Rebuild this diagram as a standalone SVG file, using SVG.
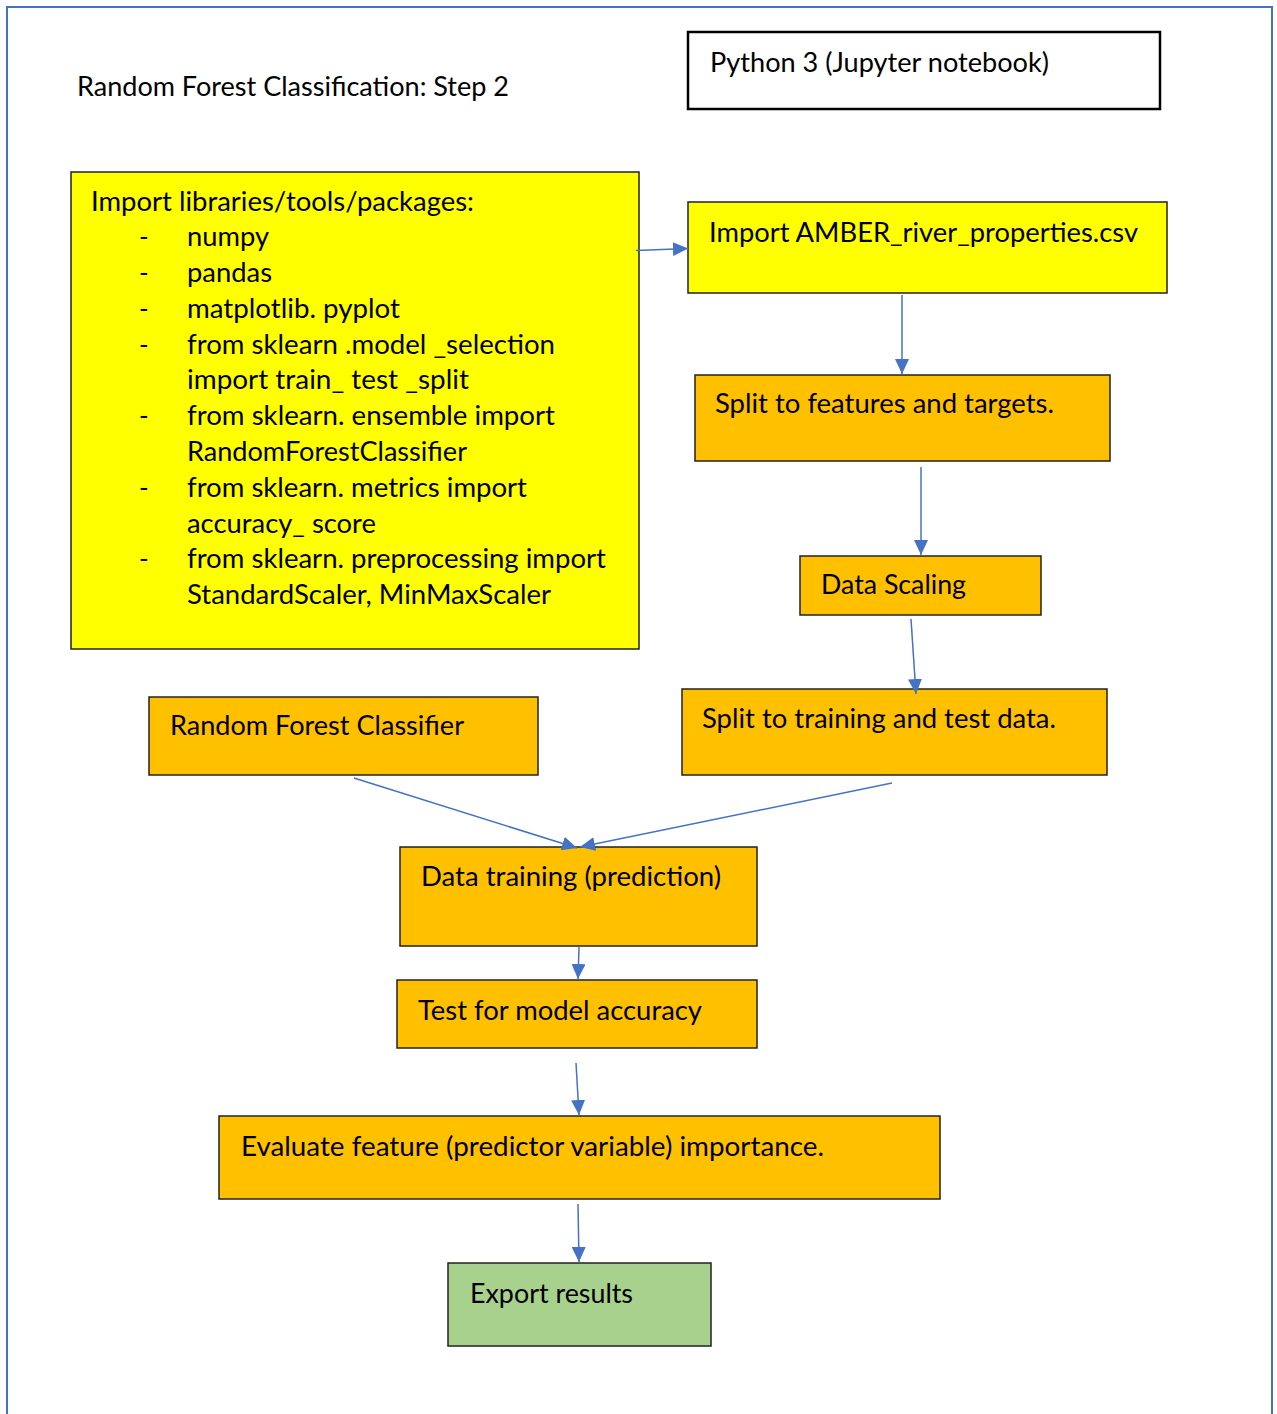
<svg xmlns="http://www.w3.org/2000/svg" width="1277" height="1414" viewBox="0 0 1277 1414">
<style>
  text { font-family: Lato, "Open Sans", "Liberation Sans", sans-serif; font-size: 26px; fill: #000; }
  .title { font-size: 26px; }
  .box { stroke: #222; stroke-width: 1.5; }
  .yellow { fill: #FFFF00; }
  .orange { fill: #FFC000; }
  .green { fill: #A9D18E; }
  .conn line { stroke: #4472C4; stroke-width: 1.5; fill: none; marker-end: url(#arr); }
</style>
<defs>
  <marker id="arr" markerUnits="userSpaceOnUse" markerWidth="16" markerHeight="14" refX="15" refY="7" orient="auto">
    <path d="M0,0 L15,7 L0,14 Z" fill="#4472C4"/>
  </marker>
</defs>
<rect x="0" y="0" width="1277" height="1414" fill="#fff"/>
<rect id="frame" x="7" y="7" width="1265" height="1440" fill="none" stroke="#4472C4" stroke-width="2"/>

<g id="title">
  <text class="title" x="77" y="96" textLength="432" lengthAdjust="spacingAndGlyphs">Random Forest Classification: Step 2</text>
</g>

<g id="python">
  <rect x="688" y="32" width="472" height="77" fill="#fff" stroke="#000" stroke-width="2.5"/>
  <text x="710" y="72" textLength="339" lengthAdjust="spacingAndGlyphs">Python 3 (Jupyter notebook)</text>
</g>

<g id="import-libs">
  <rect class="box yellow" x="71" y="172" width="568" height="477"/>
  <text x="91" y="211" textLength="383" lengthAdjust="spacingAndGlyphs">Import libraries/tools/packages:</text>
  <text x="139" y="246">-</text><text x="187" y="246" textLength="82" lengthAdjust="spacingAndGlyphs">numpy</text>
  <text x="139" y="282">-</text><text x="187" y="282" textLength="85" lengthAdjust="spacingAndGlyphs">pandas</text>
  <text x="139" y="318">-</text><text x="187" y="318" textLength="213" lengthAdjust="spacingAndGlyphs">matplotlib. pyplot</text>
  <text x="139" y="354">-</text><text x="187" y="354" textLength="368" lengthAdjust="spacingAndGlyphs">from sklearn .model _selection</text>
  <text x="187" y="389" textLength="282" lengthAdjust="spacingAndGlyphs">import train_ test _split</text>
  <text x="139" y="425">-</text><text x="187" y="425" textLength="368" lengthAdjust="spacingAndGlyphs">from sklearn. ensemble import</text>
  <text x="187" y="461" textLength="280" lengthAdjust="spacingAndGlyphs">RandomForestClassifier</text>
  <text x="139" y="497">-</text><text x="187" y="497" textLength="340" lengthAdjust="spacingAndGlyphs">from sklearn. metrics import</text>
  <text x="187" y="533" textLength="189" lengthAdjust="spacingAndGlyphs">accuracy_ score</text>
  <text x="139" y="568">-</text><text x="187" y="568" textLength="419" lengthAdjust="spacingAndGlyphs">from sklearn. preprocessing import</text>
  <text x="187" y="604" textLength="364" lengthAdjust="spacingAndGlyphs">StandardScaler, MinMaxScaler</text>
</g>

<g id="import-amber">
  <rect class="box yellow" x="688" y="202" width="479" height="91"/>
  <text x="709" y="242" textLength="429" lengthAdjust="spacingAndGlyphs">Import AMBER_river_properties.csv</text>
</g>

<g id="split-features">
  <rect class="box orange" x="695" y="375" width="415" height="86"/>
  <text x="715" y="413" textLength="339" lengthAdjust="spacingAndGlyphs">Split to features and targets.</text>
</g>

<g id="data-scaling">
  <rect class="box orange" x="800" y="556" width="241" height="59"/>
  <text x="821" y="594" textLength="145" lengthAdjust="spacingAndGlyphs">Data Scaling</text>
</g>

<g id="split-training">
  <rect class="box orange" x="682" y="689" width="425" height="86"/>
  <text x="702" y="728" textLength="354" lengthAdjust="spacingAndGlyphs">Split to training and test data.</text>
</g>

<g id="rf-classifier">
  <rect class="box orange" x="149" y="697" width="389" height="78"/>
  <text x="170" y="735" textLength="294" lengthAdjust="spacingAndGlyphs">Random Forest Classifier</text>
</g>

<g id="data-training">
  <rect class="box orange" x="400" y="847" width="357" height="99"/>
  <text x="421" y="886" textLength="300" lengthAdjust="spacingAndGlyphs">Data training (prediction)</text>
</g>

<g id="test-accuracy">
  <rect class="box orange" x="397" y="980" width="360" height="68"/>
  <text x="418" y="1020" textLength="284" lengthAdjust="spacingAndGlyphs">Test for model accuracy</text>
</g>

<g id="evaluate">
  <rect class="box orange" x="219" y="1116" width="721" height="83"/>
  <text x="241" y="1156" textLength="583" lengthAdjust="spacingAndGlyphs">Evaluate feature (predictor variable) importance.</text>
</g>

<g id="export">
  <rect class="box green" x="448" y="1263" width="263" height="83"/>
  <text x="470" y="1303" textLength="163" lengthAdjust="spacingAndGlyphs">Export results</text>
</g>

<g id="connectors" class="conn">
  <line x1="636" y1="250.5" x2="688" y2="248.5"/>
  <line x1="902" y1="295" x2="902" y2="374"/>
  <line x1="921" y1="467" x2="921" y2="555"/>
  <line x1="911" y1="619" x2="916" y2="694"/>
  <line x1="354" y1="778" x2="577" y2="848"/>
  <line x1="892" y1="783" x2="580" y2="847"/>
  <line x1="579" y1="947" x2="578" y2="979"/>
  <line x1="576" y1="1063" x2="579" y2="1115"/>
  <line x1="578" y1="1204" x2="579" y2="1262"/>
</g>
</svg>
